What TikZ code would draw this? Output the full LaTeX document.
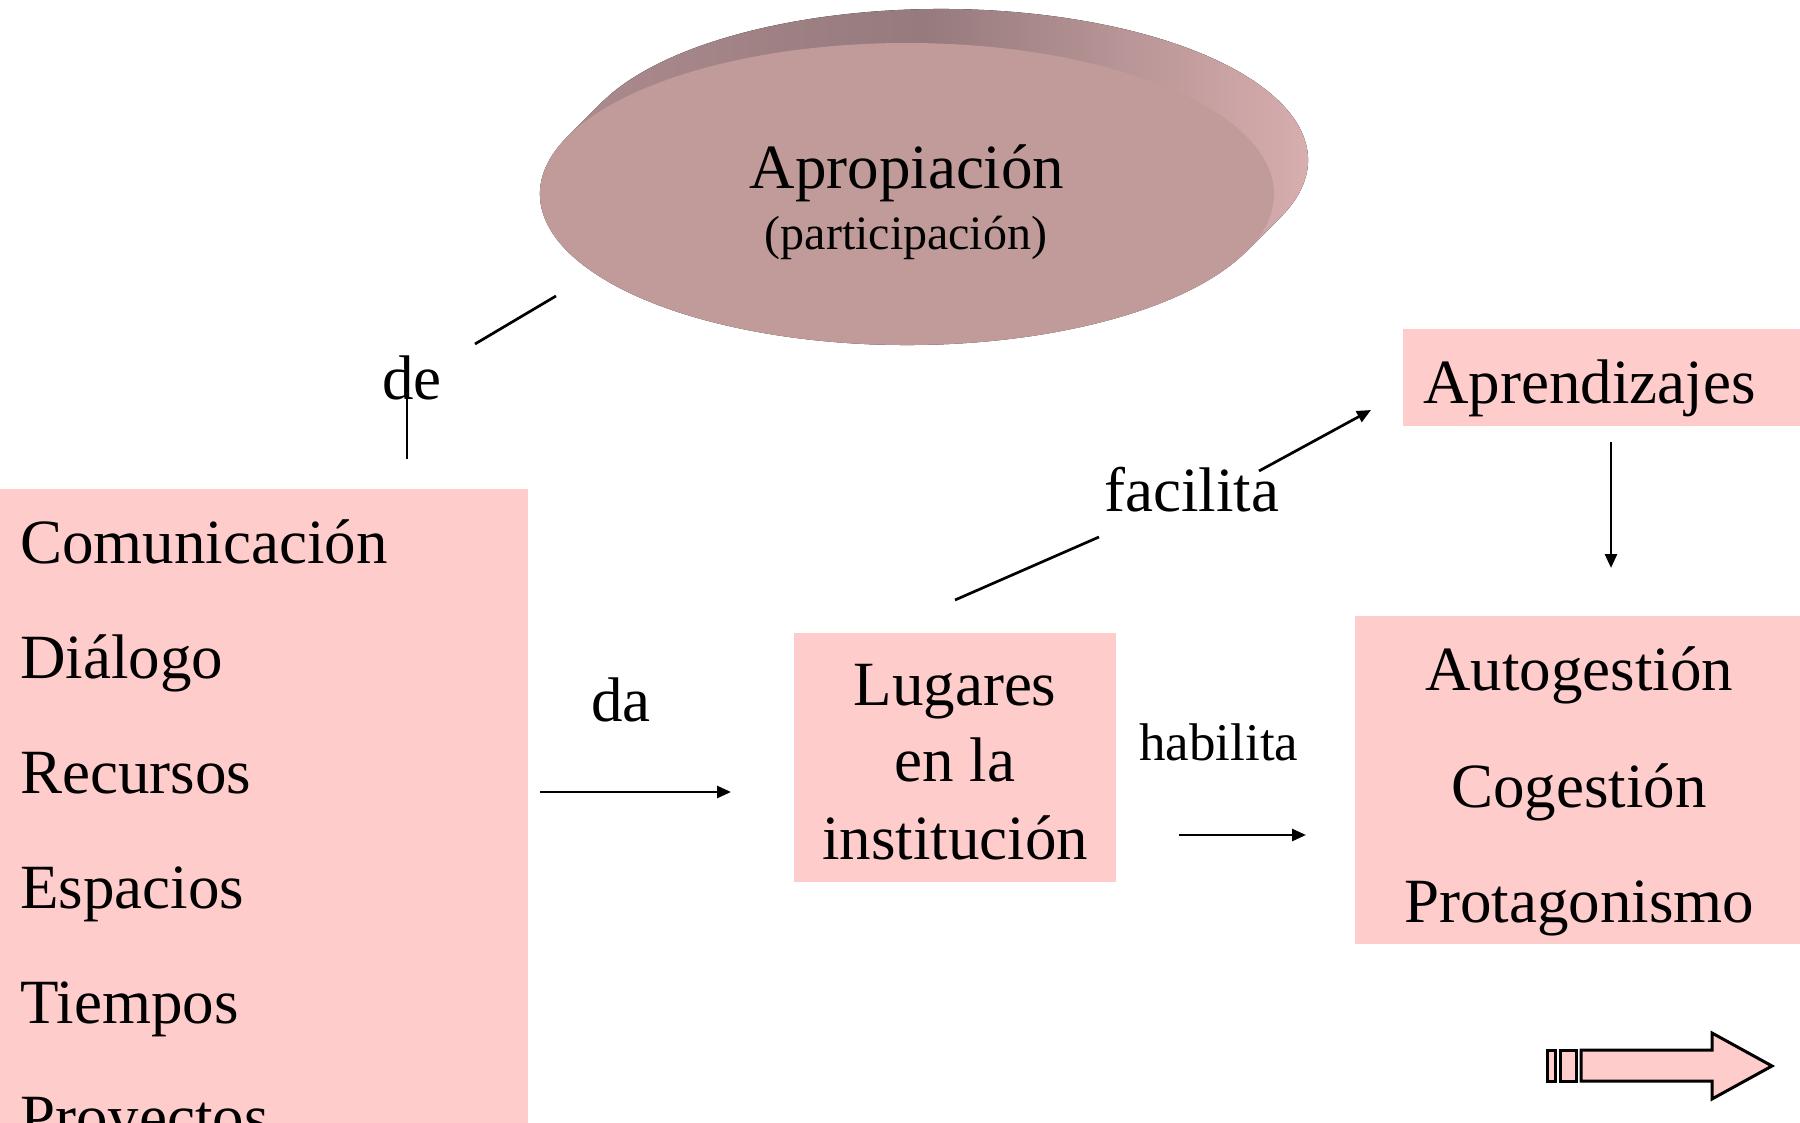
\documentclass[tikz,border=0pt]{standalone}
\usepackage{fontspec}
\setmainfont{Liberation Serif}
\usetikzlibrary{arrows.meta}
\definecolor{boxpink}{RGB}{255,204,204}
\definecolor{face}{RGB}{193,154,154}
\definecolor{rimL}{RGB}{176,142,145}
\definecolor{rimM}{RGB}{150,122,125}
\definecolor{rimR}{RGB}{224,180,180}
\begin{document}
\begin{tikzpicture}[x=0.5pt,y=-0.5pt,
  big/.style={font=\fontsize{31.5}{37}\selectfont, inner sep=0pt},
  mid/.style={font=\fontsize{26.5}{31}\selectfont, inner sep=0pt},
  small/.style={font=\fontsize{24}{28}\selectfont, inner sep=0pt},
  pinkbox/.style={fill=boxpink, draw=none, inner sep=0pt, outer sep=0pt, anchor=north west},
  conn/.style={line width=1.35pt},
  arr/.style={conn, -{Triangle[length=7pt,width=6pt]}},
  rim/.style={left color=rimL, right color=rimR, middle color=rimM},
  blockarrow/.style={fill=boxpink, draw=black, line width=1.5pt, line join=miter},
]
\useasboundingbox (0,0) rectangle (1800,1123);
\fill[white] (0,0) rectangle (1800,1123);

% 3D disc: extruded side (convex hull of front and back ellipses), then front face
\fill[rim] (907,194) ++(157.6:183.5pt and 75.5pt) -- ++(17pt,17pt)
  arc[start angle=157.6, end angle=-22.4, x radius=183.5pt, y radius=75.5pt]
  -- ++(-17pt,-17pt)
  arc[start angle=-22.4, end angle=-202.4, x radius=183.5pt, y radius=75.5pt] -- cycle;
\fill[face] (907,194) ellipse [x radius=183.5pt, y radius=75.5pt];
\node[big, anchor=base] (apro) at (907,189) {Apropiación};
\node[small, anchor=base] (part) at (906,250) {(participación)};

% boxes
\node[pinkbox, minimum width=264pt, minimum height=360pt] (listbox) at (0,489) {};
\node[pinkbox, minimum width=161pt, minimum height=124.5pt] (lugbox) at (794,633) {};
\node[pinkbox, minimum width=222.5pt, minimum height=164pt] (autobox) at (1355,616) {};
\node[pinkbox, minimum width=198.5pt, minimum height=48.5pt] (aprbox) at (1403,329) {};

% list texts
\node[big, anchor=base west] (t1) at (20,563) {Comunicación};
\node[big, anchor=base west] (t2) at (20,678) {Diálogo};
\node[big, anchor=base west] (t3) at (20,793) {Recursos};
\node[big, anchor=base west] (t4) at (20,908) {Espacios};
\node[big, anchor=base west] (t5) at (20,1023) {Tiempos};
\node[big, anchor=base west] (t6) at (20,1138) {Proyectos};

% Lugares
\node[big, anchor=base] (l1) at (955,705) {Lugares};
\node[big, anchor=base] (l2) at (955,781) {en la};
\node[big, anchor=base] (l3) at (955,859) {institución};

% Autogestion
\node[big, anchor=base] (a1) at (1579,690) {Autogestión};
\node[big, anchor=base] (a2) at (1579,807) {Cogestión};
\node[big, anchor=base] (a3) at (1579,922) {Protagonismo};

\node[big, anchor=base west] (apr) at (1423,403) {Aprendizajes};

% labels
\node[big, anchor=base west] (de) at (382,400) {de};
\node[big, anchor=base west] (da) at (591,721) {da};
\node[big, anchor=base west] (fac) at (1104,511) {facilita};
\node[mid, anchor=base west] (hab) at (1139,760) {habilita};

% connector end points
\coordinate (de1) at (556,296);
\coordinate (de2) at (475,344);
\coordinate (de3) at (407,390);
\coordinate (de4) at (407,459);
\coordinate (da1) at (540,792);
\coordinate (da2) at (731,792);
\coordinate (fa1) at (955,600);
\coordinate (fa2) at (1099,537);
\coordinate (fa3) at (1259,471);
\coordinate (fa4) at (1371,410);
\coordinate (hb1) at (1179,835);
\coordinate (hb2) at (1306,835);
\coordinate (ap1) at (1611,442);
\coordinate (ap2) at (1611,568);

\draw[conn] (de1) -- (de2);
\draw[conn] (de3) -- (de4);
\draw[arr] (da1) -- (da2);
\draw[conn] (fa1) -- (fa2);
\draw[arr] (fa3) -- (fa4);
\draw[arr] (hb1) -- (hb2);
\draw[arr] (ap1) -- (ap2);

% block arrow
\draw[blockarrow] (1547,1050) rectangle (1555,1081);
\draw[blockarrow] (1560,1050) rectangle (1576,1081);
\draw[blockarrow] (1581,1050) -- (1712,1050) -- (1712,1033) -- (1772,1066)
  -- (1712,1099) -- (1712,1081) -- (1581,1081) -- cycle;
\end{tikzpicture}
\end{document}
